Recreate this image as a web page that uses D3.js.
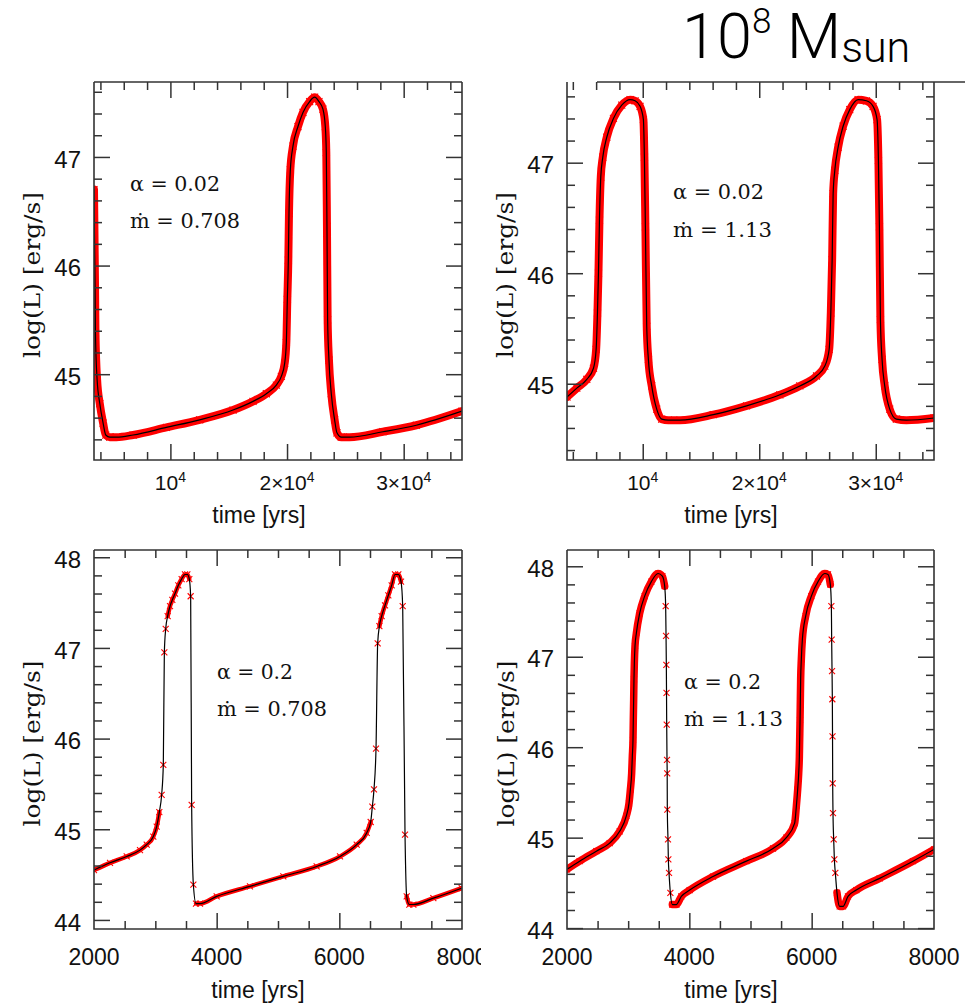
<!DOCTYPE html>
<html><head><meta charset="utf-8">
<script src="https://cdn.jsdelivr.net/npm/d3@7"></script>
<style>body{margin:0;background:#fff}svg{display:block}</style>
</head><body>
<svg id="chart" width="976" height="1008"></svg>
<script>
// ---------------- DATA ----------------
// Panel 1: alpha = 0.02, mdot = 0.708
const p1Time = [3450,3540,3574,3717,3945,4231,4460,4802,5373,6801,9657,12513,15369,17083,18225,19082,19510,19796,19939,20025,20110,20167,20282,20510,20938,21367,21938,22367,22738,23080,23280,23366,23423,23480,23594,23794,24080,24280,24651,25365,28221,31077,35000];
const p1LogL = [46.70,45.80,45.38,44.95,44.73,44.55,44.44,44.42,44.42,44.44,44.51,44.58,44.67,44.75,44.82,44.90,44.98,45.10,45.29,45.69,46.05,46.48,46.88,47.10,47.28,47.41,47.51,47.55,47.51,47.44,47.28,47.04,46.36,45.50,45.13,44.82,44.58,44.46,44.42,44.42,44.47,44.53,44.66];
// Panel 2: alpha = 0.02, mdot = 1.13
const p2Time = [3500,4343,5200,5772,6000,6114,6200,6286,6400,6572,6914,7486,8200,8914,9343,9771,10057,10143,10229,10343,10486,10771,11200,11629,12200,13200,16057,18914,21771,23486,24914,25629,26000,26143,26257,26343,26486,26771,27200,27771,28486,29200,29771,30114,30229,30314,30400,30543,30771,31200,31771,32629,35000];
const p2LogL = [44.88,44.96,45.04,45.14,45.31,45.64,46.00,46.48,46.87,47.05,47.23,47.40,47.52,47.57,47.56,47.51,47.39,47.05,46.42,45.52,45.22,44.98,44.77,44.68,44.67,44.67,44.72,44.80,44.90,44.98,45.07,45.16,45.31,45.64,46.12,46.72,46.93,47.14,47.33,47.48,47.57,47.56,47.51,47.39,47.02,46.42,45.58,45.22,44.98,44.77,44.68,44.67,44.69];
// Panel 3: alpha = 0.2, mdot = 0.708
const p3Time = [2000,2261,2533,2750,2859,2967,3022,3065,3103,3130,3147,3169,3201,3239,3277,3321,3375,3429,3484,3522,3554,3576,3592,3620,3663,3728,4000,4543,5087,5630,6011,6283,6446,6511,6538,6565,6598,6625,6653,6690,6745,6799,6853,6908,6962,7006,7033,7071,7098,7141,7207,7533,7995];
const p3LogL = [44.55,44.63,44.70,44.77,44.83,44.92,45.03,45.19,45.38,45.71,46.95,47.21,47.35,47.46,47.53,47.60,47.69,47.76,47.81,47.81,47.76,47.57,45.27,44.39,44.18,44.18,44.26,44.37,44.48,44.59,44.70,44.83,44.96,45.08,45.25,45.44,45.89,47.05,47.24,47.35,47.47,47.58,47.69,47.81,47.81,47.73,47.46,44.94,44.26,44.17,44.17,44.24,44.35];
// Panel 4: alpha = 0.2, mdot = 1.13
const p4Time = [2000,2207,2480,2698,2861,2970,3014,3036,3057,3068,3079,3084,3090,3095,3101,3112,3134,3188,3270,3379,3488,3559,3597,3613,3619,3624,3627,3630,3635,3638,3640,3651,3657,3668,3690,3722,3788,3869,4006,4387,4932,5368,5586,5722,5750,5771,5788,5799,5804,5810,5815,5820,5831,5848,5902,5995,6104,6213,6267,6305,6322,6327,6333,6338,6341,6344,6349,6360,6371,6387,6414,6458,6513,6594,6730,7112,7657,8000];
const p4LogL = [44.65,44.74,44.85,44.94,45.07,45.24,45.38,45.53,45.71,45.90,46.08,46.30,46.53,46.75,46.93,47.12,47.26,47.48,47.67,47.83,47.92,47.89,47.78,47.56,47.23,46.91,46.60,46.25,45.86,45.71,45.31,44.98,44.76,44.61,44.39,44.26,44.26,44.35,44.42,44.57,44.74,44.88,45.00,45.16,45.35,45.53,45.71,45.90,46.08,46.30,46.53,46.75,46.97,47.19,47.45,47.67,47.83,47.92,47.91,47.80,47.56,47.19,46.84,46.53,46.12,45.60,45.27,44.98,44.76,44.61,44.39,44.24,44.24,44.35,44.42,44.55,44.74,44.87];

const alphaValues = ["0.02","0.02","0.2","0.2"];
const mdotValues = ["0.708","1.13","0.708","1.13"];
const xTicksTop = [10000,20000,30000];
const xTickLabelsTop = [["","10","4"],["2×","10","4"],["3×","10","4"]];
const xTicksBottom = [2000,4000,6000,8000];
const xTickLabelsBottom = ["2000","4000","6000","8000"];
const yTicksTop = [45,46,47];
const yTicksBottom = [44,45,46,47,48];
const xAxisTitle = "time [yrs]";
const yAxisTitle = "log(L)  [erg/s]";
const titleParts = ["10","8"," M","sun"];

// ---------------- LAYOUT ----------------
const series = [[p1Time,p1LogL],[p2Time,p2LogL],[p3Time,p3LogL],[p4Time,p4LogL]];
const layout = [
  {left:94, top:82, right:462, bottom:460, xd:[3450,35000], yd:[44.21,47.69], kind:"top", band:8, bandSlope:Infinity, bandRising:false,
   ann:{x:130,y1:191,y2:228,w1:90,w2:110}, ylabX:32, xlabX:259, xlabY:523, topLine:[94,462], clip:null},
  {left:567, top:82, right:934, bottom:460, xd:[3500,35000], yd:[44.31,47.73], kind:"top", band:8, bandSlope:Infinity, bandRising:false,
   ann:{x:673,y1:199,y2:237,w1:91,w2:99}, ylabX:505, xlabX:731, xlabY:523, topLine:[597,965], clip:null},
  {left:94, top:550, right:462, bottom:929, xd:[2000,8000], yd:[43.9,48.08], kind:"bottom", band:4.5, bandSlope:6, bandRising:false,
   ann:{x:217,y1:679,y2:716,w1:76,w2:110}, ylabX:32, xlabX:258, xlabY:998, topLine:[94,462], clip:[0,530,481,478]},
  {left:567, top:550, right:934, bottom:929, xd:[2000,8000], yd:[43.99,48.18], kind:"bottom", band:7.5, bandSlope:6, bandRising:true,
   ann:{x:684,y1:689,y2:726,w1:77,w2:99}, ylabX:506, xlabX:731, xlabY:998, topLine:[567,934], clip:null}
];

const svg = d3.select("#chart");
const defs = svg.append("defs");
const frameColor = "#333";
const sans = "'Liberation Sans', Arial, Helvetica, sans-serif";
const serif = "'DejaVu Serif', 'Liberation Serif', serif";

function styleAxis(g){
  g.select(".domain").remove();
  g.selectAll(".tick line").attr("stroke", frameColor).attr("stroke-width", 1.5);
  g.selectAll(".tick text").attr("fill","#111").attr("font-family", sans);
}

layout.forEach((L, i) => {
  const [tArr, lArr] = series[i];
  let root = svg.append("g");
  if (L.clip) {
    defs.append("clipPath").attr("id","pclip"+i).append("rect")
      .attr("x",L.clip[0]).attr("y",L.clip[1]).attr("width",L.clip[2]).attr("height",L.clip[3]);
    root.attr("clip-path","url(#pclip"+i+")");
  }
  const x = d3.scaleLinear().domain(L.xd).range([L.left, L.right]);
  const y = d3.scaleLinear().domain(L.yd).range([L.bottom, L.top]);

  defs.append("clipPath").attr("id","plot"+i).append("rect")
    .attr("x",L.left).attr("y",L.top).attr("width",L.right-L.left).attr("height",L.bottom-L.top);
  const plot = root.append("g").attr("clip-path","url(#plot"+i+")");

  const pts = tArr.map((t,k)=>({t:t, v:lArr[k]}));
  const line = d3.line().x(d=>x(d.t)).y(d=>y(d.v)).curve(d3.curveMonotoneX);

  // red marker band (dense crosses) on runs where markers overlap
  const runs = []; let cur = null;
  for (let k=0;k<pts.length-1;k++){
    const dx = Math.abs(x(pts[k+1].t)-x(pts[k].t));
    const dy = Math.abs(y(pts[k+1].v)-y(pts[k].v));
    const s = dy/Math.max(dx,0.001);
    const rising = pts[k+1].v > pts[k].v;
    if (s < L.bandSlope || (L.bandRising && rising)){ if(!cur){cur=[pts[k]]; runs.push(cur);} cur.push(pts[k+1]); }
    else cur = null;
  }
  plot.selectAll("path.band").data(runs).join("path").attr("class","band")
    .attr("d", line).attr("fill","none").attr("stroke","#f00")
    .attr("stroke-width", L.band).attr("stroke-linecap","round").attr("stroke-linejoin","round");

  const mk = L.kind==="top" ? 3.5 : 3;
  plot.selectAll("path.mk").data(pts).join("path").attr("class","mk")
    .attr("d", d=>{const cx=x(d.t), cy=y(d.v); return `M${cx-mk},${cy-mk}L${cx+mk},${cy+mk}M${cx-mk},${cy+mk}L${cx+mk},${cy-mk}`;})
    .attr("stroke","#f00").attr("stroke-width",1.1).attr("fill","none");

  plot.append("path").datum(pts).attr("d", line).attr("fill","none").attr("stroke","#000").attr("stroke-width",1.2);

  // ticks
  const yMajor = L.kind==="top" ? yTicksTop : yTicksBottom;
  const yMinor = d3.range(Math.ceil(L.yd[0]*5), Math.floor(L.yd[1]*5)+1).map(v=>v/5).filter(v=>Math.abs(v-Math.round(v))>1e-6);
  let xMajor, xMinor;
  if (L.kind==="top"){
    xMajor = xTicksTop;
    xMinor = d3.range(Math.ceil(L.xd[0]/2000), Math.floor(L.xd[1]/2000)+1).map(v=>v*2000).filter(v=>v%10000!==0);
  } else {
    xMajor = [4000,6000];
    xMinor = d3.range(Math.ceil(L.xd[0]/500), Math.floor(L.xd[1]/500)+1).map(v=>v*500).filter(v=>v%2000!==0 && v>L.xd[0] && v<L.xd[1]);
  }
  const big = 16, small = 8;
  root.append("g").attr("transform",`translate(${L.left},0)`)
    .call(d3.axisLeft(y).tickValues(yMajor).tickSizeInner(-big).tickSizeOuter(0).tickPadding(13).tickFormat(d3.format("d")))
    .call(styleAxis).call(g=>g.selectAll(".tick text").attr("font-size",24).attr("dy","0.42em"));
  root.append("g").attr("transform",`translate(${L.left},0)`)
    .call(d3.axisLeft(y).tickValues(yMinor).tickSizeInner(-small).tickSizeOuter(0).tickFormat(""))
    .call(styleAxis);
  root.append("g").attr("transform",`translate(${L.right},0)`)
    .call(d3.axisRight(y).tickValues(yMajor).tickSizeInner(-big).tickSizeOuter(0).tickFormat(""))
    .call(styleAxis);
  root.append("g").attr("transform",`translate(${L.right},0)`)
    .call(d3.axisRight(y).tickValues(yMinor).tickSizeInner(-small).tickSizeOuter(0).tickFormat(""))
    .call(styleAxis);
  [[d3.axisBottom, L.bottom],[d3.axisTop, L.top]].forEach(([ax, pos])=>{
    root.append("g").attr("transform",`translate(0,${pos})`)
      .call(ax(x).tickValues(xMajor).tickSizeInner(-big).tickSizeOuter(0).tickFormat(""))
      .call(styleAxis);
    root.append("g").attr("transform",`translate(0,${pos})`)
      .call(ax(x).tickValues(xMinor).tickSizeInner(-small).tickSizeOuter(0).tickFormat(""))
      .call(styleAxis);
  });

  if (L.kind==="top"){
    const lab = root.append("g").selectAll("text").data(xTicksTop).join("text")
      .attr("x", d=>x(d)).attr("y", L.bottom+30).attr("text-anchor","middle")
      .attr("font-family", sans).attr("font-size",21).attr("fill","#111");
    lab.each(function(d,k){
      const t = d3.select(this); const parts = xTickLabelsTop[k];
      if (parts[0]) t.append("tspan").text(parts[0]);
      t.append("tspan").text(parts[1]);
      t.append("tspan").attr("font-size",14).attr("dy",-8).text(parts[2]);
    });
  } else {
    root.append("g").selectAll("text").data(xTicksBottom).join("text")
      .attr("x", d=>x(d)).attr("y", L.bottom+36).attr("text-anchor","middle")
      .attr("font-family", sans).attr("font-size",23).attr("fill","#111")
      .text((d,k)=>xTickLabelsBottom[k]);
  }

  root.append("path").attr("d",`M${L.left},${L.top}V${L.bottom}H${L.right}V${L.top}`)
    .attr("fill","none").attr("stroke",frameColor).attr("stroke-width",1.6);
  root.append("line").attr("x1",L.topLine[0]).attr("x2",L.topLine[1]).attr("y1",L.top).attr("y2",L.top)
    .attr("stroke",frameColor).attr("stroke-width",1.6);

  root.append("text").attr("x",L.xlabX).attr("y",L.xlabY).attr("text-anchor","middle")
    .attr("font-family",sans).attr("font-size",23).attr("fill","#111").text(xAxisTitle);
  const cy = (L.top+L.bottom)/2 + 4;
  root.append("text").attr("transform",`translate(${L.ylabX+8},${cy}) rotate(-90)`)
    .attr("text-anchor","middle").attr("font-family",serif).attr("font-size",22).attr("fill","#111")
    .attr("textLength",166).attr("lengthAdjust","spacingAndGlyphs").text(yAxisTitle);

  root.append("text").attr("x",L.ann.x).attr("y",L.ann.y1).attr("font-family",serif).attr("font-size",20)
    .attr("fill","#111").attr("textLength",L.ann.w1).attr("lengthAdjust","spacingAndGlyphs")
    .text("α = " + alphaValues[i]);
  root.append("text").attr("x",L.ann.x).attr("y",L.ann.y2).attr("font-family",serif).attr("font-size",20)
    .attr("fill","#111").attr("textLength",L.ann.w2).attr("lengthAdjust","spacingAndGlyphs")
    .text("ṁ = " + mdotValues[i]);
});

const title = svg.append("text").attr("x",682).attr("y",58)
  .attr("font-family","Roboto, 'Open Sans', Lato, 'Liberation Sans', sans-serif").attr("font-weight",300)
  .attr("font-size",63).attr("fill","#000");
title.append("tspan").text(titleParts[0]);
title.append("tspan").attr("font-size",35).attr("dy",-25).text(titleParts[1]);
title.append("tspan").attr("font-size",63).attr("dy",25).text(titleParts[2]);
title.append("tspan").attr("font-size",43).attr("dy",4).text(titleParts[3]);
</script>
</body></html>
